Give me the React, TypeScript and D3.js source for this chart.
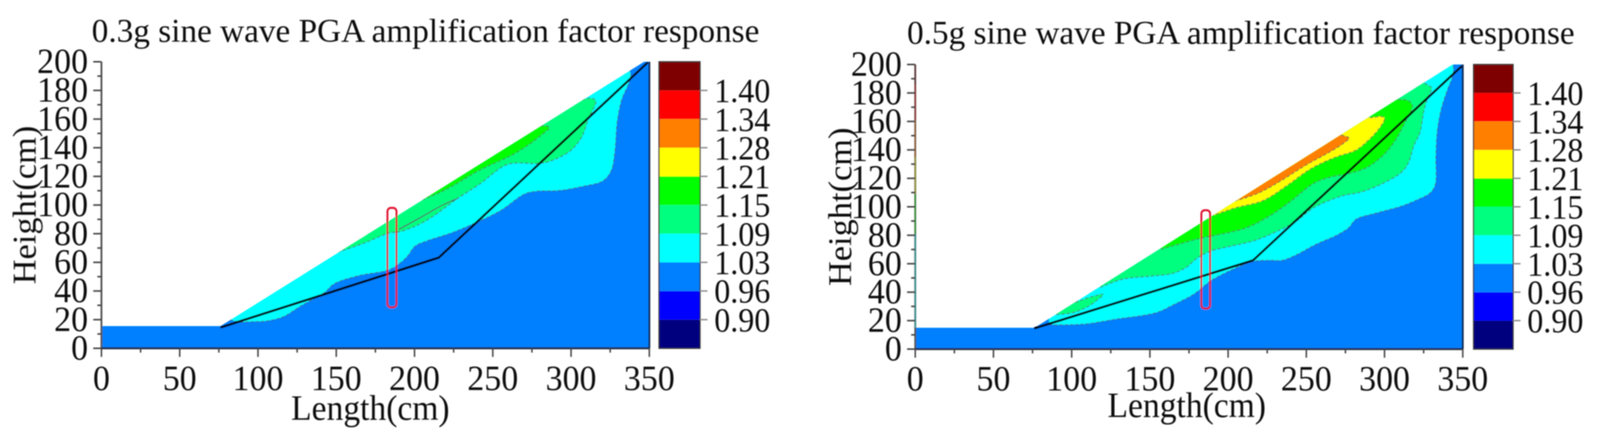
import React from "react";
import * as d3 from "d3";

type Pt = [number, number];

const FONT = "'Liberation Serif', serif";

// the reference is 4290 wide, the browser may give less, so the whole chart is fitted to the window
const W = 4290;
const H = 1123;

// colour bands, bottom to top
const bandColors = ["#00007f", "#0000ff", "#007fff", "#00ffff", "#00ff7f", "#00ff00", "#ffff00", "#ff7f00", "#ff0000", "#7f0000"];
const bandLabels = ["0.90", "0.96", "1.03", "1.09", "1.15", "1.21", "1.28", "1.34", "1.40"];
const BLUE = "#007fff", CYAN = "#00ffff", SPRING = "#00ff7f", GREEN = "#00ff00", YELLOW = "#ffff00", ORANGE = "#ff7f00";

const xTicks = d3.range(0, 351, 25);
const yTicks = d3.range(0, 201, 10);

// --- 0.3g ---
const domain03: Pt[] = [[0, 0], [0, 15.5], [76, 15.5], [346.7, 200], [350, 200], [350, 0]];
const rock03: Pt[] = [[76, 14.5], [215.5, 63.3], [349, 199.5]];
const box03: Pt[] = [[182.7, 28.6], [188.5, 98]];
const blue03: Pt[] = [[82, 20], [88, 18.4], [97, 18.6], [105, 19], [116, 22], [128, 30], [142.5, 39], [148.6, 45], [163.8, 50.6], [183.6, 54.8], [191, 59.7], [195.7, 64.6], [200.3, 71.3], [207.9, 75], [223.1, 80.4], [235.2, 85.8], [255, 96.2], [270.2, 107.7], [277.8, 109.6], [293, 110.2], [308.2, 113.2], [320.4, 116.9], [325.7, 124.2], [328, 137.5], [329.5, 158.2], [332.5, 174], [336.4, 183.7], [338.2, 190], [337.4, 194.5]];
const spring03: Pt[] = [[150.9, 67], [168.4, 73.7], [183.6, 80.4], [191.2, 81.6], [201.8, 85.9], [212.4, 92.5], [220, 98.6], [227.6, 104.7], [241.3, 114.4], [259.6, 128.4], [277.8, 129], [285.4, 130.2], [299.1, 137.5], [306.7, 147.3], [311.2, 160.6], [315.8, 172.8], [312, 174.6], [302.1, 171]];
const green03: Pt[] = [[198.8, 100.8], [220, 110.8], [241.3, 124.2], [262.6, 135.1], [274.8, 143.6], [283.9, 151.5], [286.2, 153.9], [282.4, 155.4], [274.8, 152]];
const saddle03: Pt[] = [[190, 83], [205, 92], [218, 100], [227.6, 104.7]];

// --- 0.5g ---
const domain05: Pt[] = [[0, 0], [0, 15], [76.3, 15], [343.5, 200], [350, 200], [350, 0]];
const rock05: Pt[] = [[76, 14.5], [216, 62.4], [349.5, 199]];
const box05: Pt[] = [[182.9, 28.5], [188.5, 97.6]];
const blue05: Pt[] = [[85.5, 17.1], [97.7, 17.1], [109.9, 17.8], [128.1, 21], [154, 25.6], [164.6, 30.9], [178.3, 38.8], [188.9, 48], [201.1, 55.1], [216.3, 61.7], [227, 62.4], [234.6, 62.4], [243.7, 66.3], [255.9, 73.5], [269.5, 80.1], [277.1, 85.3], [281.7, 91.2], [295.4, 95.8], [310.6, 100.4], [321, 105], [329, 109.6], [332.4, 115.5], [332.8, 135], [333.6, 152], [336, 167.6], [340.8, 184], [343, 189.8], [344, 194.9], [344, 199.5]];
const spring05: Pt[] = [[118.2, 43.3], [132.7, 49.2], [149.4, 51.2], [164.6, 53.2], [173.7, 57.8], [179.8, 63.7], [188.9, 68.9], [201.1, 72.2], [216.3, 76.1], [228.5, 81.4], [243.7, 89.9], [254.3, 99.1], [272.6, 107.6], [284.7, 110.3], [298.4, 116.2], [310.6, 124.1], [315.1, 130.6], [319, 143.7], [322.6, 152], [325, 166.6], [327.6, 176.7], [330.1, 183.5], [328.1, 185.4], [325.2, 187]];
const lens05: Pt[] = [[90.1, 24.3], [100.7, 25.6], [109.9, 29.6], [116, 34.2], [120.2, 38.5], [112.9, 36.8], [100.7, 32.2]];
const green05: Pt[] = [[157, 70.2], [167.7, 73.5], [182.9, 78.1], [198.1, 81.4], [211.8, 85.3], [227, 93.9], [240.6, 104.4], [254.3, 116.2], [265, 120.8], [277.1, 123.4], [289.3, 128], [300, 137.2], [307, 147], [313, 159], [317.8, 171], [315.4, 174.5], [312, 175.3], [306, 175.5]];
const yellow05: Pt[] = [[189, 93.4], [204.1, 99.1], [222.4, 104.4], [237.6, 114.9], [252.8, 126.7], [268, 134.6], [281.7, 139.8], [289.3, 146.4], [296.9, 155.5], [300, 162.1], [298.4, 163.4], [292.3, 162.8], [287.8, 162.5]];
const orange05: Pt[] = [[204.1, 103.9], [219.4, 109.6], [234.6, 118.8], [249.8, 129.3], [265, 138.5], [272.6, 143.7], [277.4, 148.3], [274.9, 149.6], [271, 150.8]];
// faint coloured streak along the left edge of the 0.5g plot
const edgeStops = [15, 81, 109, 135, 161, 186, 200];
const edgeColors = [CYAN, GREEN, YELLOW, ORANGE, "#ff0000", "#7f0000"];

type Region = { color: string; pts: Pt[] };

interface PanelProps {
  title: string;
  titleX: number;
  titleY: number;
  xRange: Pt;
  yRange: Pt;
  barX: Pt;
  yLabelX: number;
  lengthX: number;
  lengthY: number;
  tickY: number;
  domain: Pt[];
  rock: Pt[];
  box: Pt[];
  blue: Pt[];
  regions: Region[];
  extraLines?: Pt[][];
  edge?: boolean;
}

const Panel = (p: PanelProps) => {
  const x = d3.scaleLinear().domain([0, 350]).range(p.xRange);
  const y = d3.scaleLinear().domain([0, 200]).range(p.yRange);
  const bar = d3.scaleLinear().domain([0, 10]).range(p.yRange);
  const curve = d3.line<Pt>().x((d) => x(d[0])).y((d) => y(d[1])).curve(d3.curveCatmullRom.alpha(0.5));
  const straight = d3.line<Pt>().x((d) => x(d[0])).y((d) => y(d[1]));
  const clipId = "clip" + p.title.slice(0, 3).replace(".", "");

  // closes a contour by going over the slope, the clip path removes the rest
  const closed = (pts: Pt[], tail?: Pt[]) => {
    const first = pts[0];
    const last = pts[pts.length - 1];
    const rest: Pt[] = tail || [[last[0], last[1] + 25], [first[0], first[1] + 25]];
    return curve(pts) + rest.map((d) => `L${x(d[0])},${y(d[1])}`).join("") + "Z";
  };
  const blueTail: Pt[] = [[p.blue[p.blue.length - 1][0], 215], [365, 215], [365, -10], [-10, -10], [-10, 25], [p.blue[0][0], 25]];
  const contourLine = { fill: "none", stroke: "#4a5a5a", strokeWidth: 2.5, strokeDasharray: "9 5", strokeOpacity: 0.75 };

  return (
    <g>
      <clipPath id={clipId}>
        <path d={straight(p.domain) + "Z"} />
      </clipPath>
      <text x={p.titleX} y={p.titleY} fontSize={84} textLength={1790} lengthAdjust="spacingAndGlyphs" fontFamily={FONT} fill="#111">{p.title}</text>

      <g clipPath={`url(#${clipId})`}>
        <path d={straight(p.domain) + "Z"} fill={CYAN} />
        <path d={closed(p.blue, blueTail)} fill={BLUE} />
        <path d={curve(p.blue) as string} {...contourLine} />
        {p.regions.map((r, i) => (
          <g key={i}>
            <path d={closed(r.pts)} fill={r.color} />
            <path d={curve(r.pts) as string} {...contourLine} />
          </g>
        ))}
        {(p.extraLines || []).map((l, i) => (
          <path key={i} d={curve(l) as string} fill="none" stroke="#3f6f6f" strokeWidth={3} />
        ))}
      </g>

      <path d={straight(p.rock) as string} fill="none" stroke="#000" strokeWidth={6} strokeLinejoin="round" />
      <rect
        x={x(p.box[0][0])}
        y={y(p.box[1][1])}
        width={x(p.box[1][0]) - x(p.box[0][0])}
        height={y(p.box[0][1]) - y(p.box[1][1])}
        rx={9}
        fill="none"
        stroke="#e0102c"
        strokeWidth={5}
      />

      {/* axes */}
      <line x1={x(0)} x2={x(0)} y1={y(0)} y2={y(200)} stroke="#555" strokeWidth={5} />
      {p.edge && edgeColors.map((c, i) => (
        <line key={c} x1={x(0)} x2={x(0)} y1={y(edgeStops[i])} y2={y(edgeStops[i + 1])} stroke={c} strokeWidth={3} strokeOpacity={0.45} />
      ))}
      <line x1={x(0)} x2={x(350)} y1={y(0)} y2={y(0)} stroke="#222c44" strokeWidth={5} />
      <line x1={x(350)} x2={x(350)} y1={y(0)} y2={y(200)} stroke="#102a55" strokeWidth={5} />
      {yTicks.map((t) => {
        const major = t % 20 === 0;
        return (
          <g key={t}>
            <line x1={x(0) - (major ? 22 : 11)} x2={x(0)} y1={y(t)} y2={y(t)} stroke="#444" strokeWidth={4} />
            {major && (
              <text x={x(0) - 36} y={y(t) + 29} textAnchor="end" fontSize={91} fontFamily={FONT} fill="#111">{t}</text>
            )}
          </g>
        );
      })}
      {xTicks.map((t) => {
        const major = t % 50 === 0;
        return (
          <g key={t}>
            <line x1={x(t)} x2={x(t)} y1={y(0)} y2={y(0) + (major ? 22 : 11)} stroke="#444" strokeWidth={4} />
            {major && (
              <text x={x(t)} y={p.tickY} textAnchor="middle" fontSize={91} fontFamily={FONT} fill="#111">{t}</text>
            )}
          </g>
        );
      })}
      <text x={p.lengthX} y={p.lengthY} textAnchor="middle" fontSize={90} fontFamily={FONT} fill="#111">Length(cm)</text>
      <text
        transform={`translate(${p.yLabelX},${(y(0) + y(200)) / 2}) rotate(-90)`}
        textAnchor="middle"
        fontSize={88}
        fontFamily={FONT}
        fill="#111"
      >
        Height(cm)
      </text>

      {/* colour bar */}
      {bandColors.map((c, i) => (
        <rect key={c} x={p.barX[0]} y={bar(i + 1)} width={p.barX[1] - p.barX[0]} height={bar(i) - bar(i + 1)} fill={c} />
      ))}
      <rect x={p.barX[0]} y={bar(10)} width={p.barX[1] - p.barX[0]} height={bar(0) - bar(10)} fill="none" stroke="#333" strokeWidth={3} />
      {bandLabels.map((l, i) => (
        <g key={l}>
          <line x1={p.barX[1]} x2={p.barX[1] + 20} y1={bar(i + 1)} y2={bar(i + 1)} stroke="#888" strokeWidth={3.5} />
          <text x={p.barX[1] + 38} y={bar(i + 1) + 30} fontSize={86} fontFamily={FONT} fill="#111">{l}</text>
        </g>
      ))}
    </g>
  );
};

const App = () => (
  <svg
    viewBox={`0 0 ${W} ${H}`}
    preserveAspectRatio="none"
    style={{ position: "absolute", left: 0, top: 0, width: "100vw", height: "100vh", background: "#fff" }}
  >
    <filter id="soft" x="-5%" y="-5%" width="110%" height="110%">
      <feGaussianBlur stdDeviation={1.6} />
    </filter>
    <g filter="url(#soft)">
      <Panel
        title="0.3g sine wave PGA amplification factor response"
        titleX={246}
        titleY={107}
        xRange={[272, 1741]}
        yRange={[891, 158]}
        barX={[1767, 1877]}
        yLabelX={96}
        lengthX={993}
        lengthY={1074}
        tickY={998}
        domain={domain03}
        rock={rock03}
        box={box03}
        blue={blue03}
        regions={[{ color: SPRING, pts: spring03 }, { color: GREEN, pts: green03 }]}
        extraLines={[saddle03]}
      />
      <Panel
        title="0.5g sine wave PGA amplification factor response"
        titleX={2432}
        titleY={112}
        xRange={[2454, 3922]}
        yRange={[893, 165]}
        barX={[3951, 4057]}
        yLabelX={2282}
        lengthX={3182}
        lengthY={1067}
        tickY={999}
        domain={domain05}
        rock={rock05}
        box={box05}
        blue={blue05}
        regions={[
          { color: SPRING, pts: spring05 },
          { color: SPRING, pts: lens05 },
          { color: GREEN, pts: green05 },
          { color: YELLOW, pts: yellow05 },
          { color: ORANGE, pts: orange05 },
        ]}
        edge
      />
    </g>
  </svg>
);

export default App;
